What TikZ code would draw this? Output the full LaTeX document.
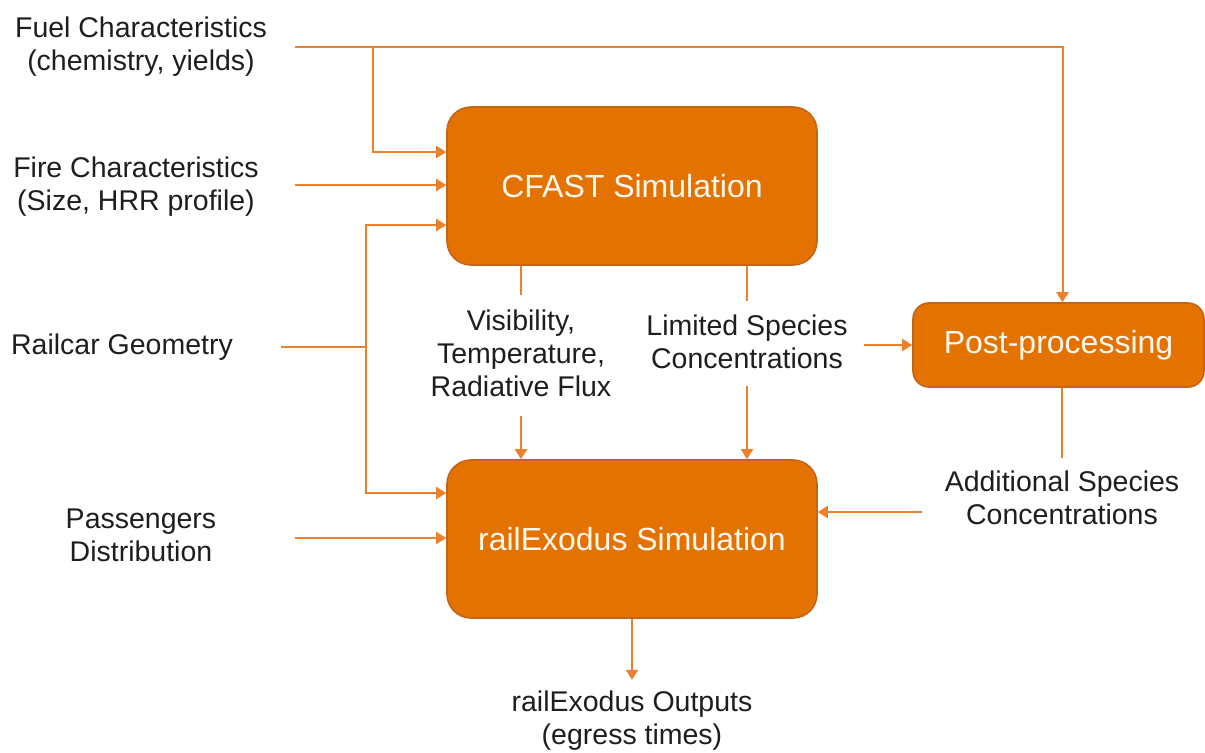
\documentclass[tikz,border=0pt]{standalone}
\usepackage{fontspec}
\setmainfont{Liberation Sans}
\usetikzlibrary{arrows.meta}
\definecolor{boxfill}{RGB}{228,114,0}
\definecolor{boxline}{RGB}{198,100,22}
\definecolor{flowline}{RGB}{236,128,44}
\definecolor{txt}{RGB}{30,30,30}
\definecolor{boxtxt}{RGB}{255,248,238}
\begin{document}
\begin{tikzpicture}[x=0.5pt,y=-0.5pt,
    box/.style={draw=boxline,line width=0.8pt,fill=boxfill,rounded corners=12pt,
      text=boxtxt,font=\fontsize{16}{19}\selectfont,
      minimum width=185pt,minimum height=79pt,inner sep=0pt},
    postbox/.style={box,rounded corners=8pt,minimum width=145.5pt,minimum height=42pt},
    lbl/.style={align=center,text=txt,inner sep=0pt,font=\fontsize{14.25}{16.5}\selectfont},
    feed/.style={draw=flowline,line width=1pt},
    flow/.style={feed,-{Triangle[length=5pt,width=6pt]}}]
  \useasboundingbox (0,0) rectangle (1205,752);

  % boxes
  \node[box] (cfast) at (632,186) {CFAST Simulation};
  \node[box] (exodus) at (632,539) {railExodus Simulation};
  \node[postbox] (post) at (1058.5,345) {Post-processing};

  % inputs
  \node[lbl] (fuel) at (141,47) {Fuel Characteristics\\(chemistry, yields)};
  \node[lbl] (fire) at (136,187) {Fire Characteristics\\(Size, HRR profile)};
  \node[lbl] (rail) at (122,347) {Railcar Geometry};
  \node[lbl] (pass) at (141,535) {Passengers\\Distribution};

  % intermediate results
  \node[lbl] (vis) at (521,353) {Visibility,\\Temperature,\\Radiative Flux};
  \node[lbl] (lim) at (747,342) {Limited Species\\Concentrations};
  \node[lbl] (add) at (1062,498) {Additional Species\\Concentrations};
  \node[lbl] (out) at (632,721) {railExodus Outputs\\(egress times)};

  \coordinate (fuelout) at (295,47);
  \coordinate (fuelsplit) at (373,47);
  \coordinate (fireout) at (295,185);
  \coordinate (railout) at (281,347);
  \coordinate (railsplit) at (366,347);
  \coordinate (passout) at (295,538);
  \coordinate (limout) at (864,345);
  \coordinate (addout) at (922,512);

  \draw[flow] (fuelout) -| ([xshift=2pt]post.north);
  \draw[flow] (fuelsplit) |- ([yshift=17pt]cfast.west);
  \draw[flow] (fireout) -- (cfast.west |- fireout);
  \draw[feed] (railout) -- (railsplit);
  \draw[flow] (railsplit) |- ([yshift=-19.5pt]cfast.west);
  \draw[flow] (railsplit) |- ([yshift=23pt]exodus.west);
  \draw[flow] (passout) -- (exodus.west |- passout);

  \draw[feed] (cfast.south -| vis.north) -- ([yshift=7pt]vis.north);
  \draw[flow] ([yshift=-9.5pt]vis.south) -- (exodus.north -| vis.south);
  \draw[feed] (cfast.south -| lim.north) -- ([yshift=7pt]lim.north);
  \draw[flow] ([yshift=-8.5pt]lim.south) -- (exodus.north -| lim.south);
  \draw[flow] (limout) -- (post.west);
  \draw[feed] (post.south -| add.north) -- ([yshift=6.5pt]add.north);
  \draw[flow] (addout) -- (exodus.east |- addout);
  \draw[flow] (exodus.south) -- ([yshift=5.5pt]out.north);

\end{tikzpicture}
\end{document}
